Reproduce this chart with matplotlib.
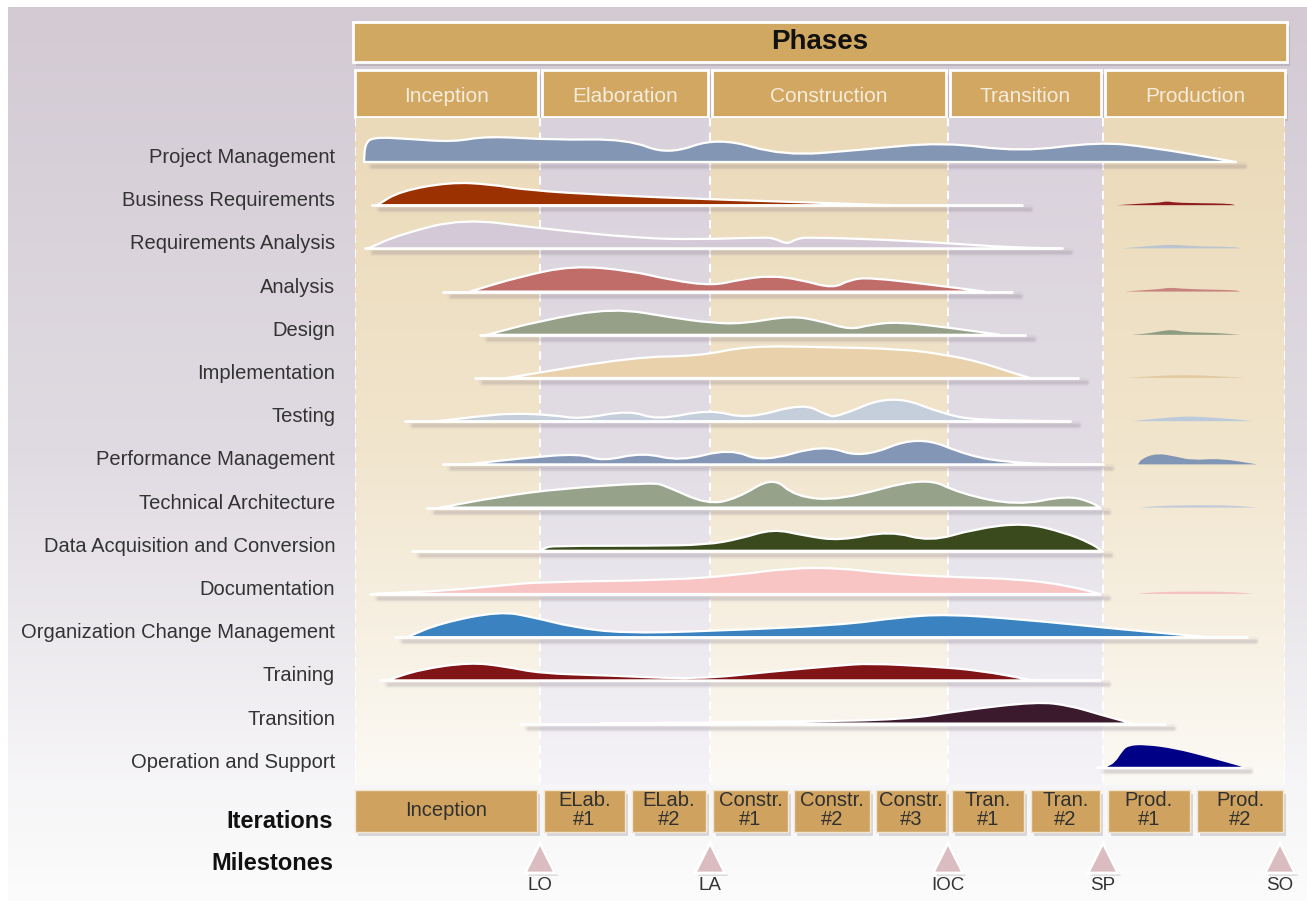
import numpy as np
import matplotlib
matplotlib.use("Agg")
import matplotlib.pyplot as plt
import matplotlib.transforms as mtransforms
from matplotlib.path import Path
from matplotlib.patches import PathPatch, Rectangle, Polygon

plt.rcParams['font.family'] = ['Liberation Sans', 'DejaVu Sans']

# ----- DATA -----
PHASES = ["Inception", "Elaboration", "Construction", "Transition", "Production"]
PHASE_BOUNDS = [0, 185, 355, 593, 748, 930]          # project days

ITERATIONS = ["Inception", "ELab.\n#1", "ELab.\n#2", "Constr.\n#1", "Constr.\n#2",
              "Constr.\n#3", "Tran.\n#1", "Tran.\n#2", "Prod.\n#1", "Prod.\n#2"]
ITER_START = [0, 189, 277, 358, 439, 521, 597, 676, 753, 842]
ITER_END = [182, 270, 351, 433, 515, 591, 669, 745, 835, 928]

MILESTONES = ["LO", "LA", "IOC", "SP", "SO"]
MILESTONE_DAY = [185, 355, 593, 748, 925]

ACTIVITIES = ["Project Management", "Business Requirements", "Requirements Analysis",
              "Analysis", "Design", "Implementation", "Testing", "Performance Management",
              "Technical Architecture", "Data Acquisition and Conversion", "Documentation",
              "Organization Change Management", "Training", "Transition",
              "Operation and Support"]

# effort curves: day -> relative effort
PM_DAY = [9, 10, 18, 55, 98, 132, 198, 272, 313, 363, 428, 505, 588, 665, 743, 795, 881]
PM_EFF = [0, 18, 25, 23, 20, 26, 22, 23, 7, 25, 6, 12, 20, 10, 20, 15, 0]

BR_DAY = [22, 45, 95, 135, 172, 252, 352, 445, 535]
BR_EFF = [0, 14, 23, 21, 15, 10, 6, 3, 0]
BR2_DAY = [762, 785, 805, 812, 820, 845, 875, 880]
BR2_EFF = [0, 1.5, 2.5, 4, 2.5, 2, 1.5, 0]

RA_DAY = [13, 45, 108, 185, 285, 345, 408, 420, 432, 442, 455, 525, 595, 655, 705]
RA_EFF = [0, 14, 30, 20, 10, 9, 11, 10, 4, 10, 11, 9, 5, 1, 0]
RA2_DAY = [767, 790, 810, 822, 840, 880, 885]
RA2_EFF = [0, 2, 3.5, 3.5, 2, 1.5, 0]

AN_DAY = [115, 165, 218, 275, 318, 358, 385, 415, 445, 478, 495, 515, 575, 630]
AN_EFF = [0, 15, 26, 21, 11, 6, 12, 16, 12, 3, 12, 14, 7, 0]
AN2_DAY = [770, 790, 805, 815, 825, 850, 880, 885]
AN2_EFF = [0, 1.5, 2.5, 4, 3, 2, 1.5, 0]

DE_DAY = [132, 185, 258, 318, 355, 388, 435, 465, 495, 515, 543, 595, 645]
DE_EFF = [0, 14, 27, 17, 12, 11, 19, 14, 5, 10, 13, 7, 0]
DE2_DAY = [777, 795, 808, 818, 830, 860, 885]
DE2_EFF = [0, 1.5, 4, 5, 2.5, 2, 0]

IM_DAY = [152, 278, 345, 392, 465, 548, 592, 625, 655, 675]
IM_EFF = [0, 21, 22, 32, 31, 29, 23, 16, 6, 0]
IM2_DAY = [773, 800, 828, 850, 890]
IM2_EFF = [0, 2, 3, 2.5, 0]

TE_DAY = [82, 125, 158, 200, 225, 275, 302, 355, 392, 448, 472, 482, 537, 592, 625, 710]
TE_EFF = [0, 5, 8, 6, 2, 11, 1, 12, 2, 18, 6, 4, 27, 6, 1, 0]
TE2_DAY = [778, 800, 832, 850, 880, 897]
TE2_EFF = [0, 2.5, 5, 4, 2, 0]

PF_DAY = [112, 165, 225, 247, 288, 325, 375, 408, 468, 507, 563, 615, 655, 700]
PF_EFF = [0, 6, 11, 3, 12, 3, 16, 2, 20, 6, 29, 8, 2, 0]
PF2_DAY = [783, 787, 802, 820, 837, 865, 902]
PF2_EFF = [0, 6, 11, 8, 4, 6, 0]

TA_DAY = [85, 145, 205, 298, 310, 352, 382, 418, 440, 485, 570, 605, 662, 712, 735, 745]
TA_EFF = [0, 11, 19, 25, 22, 3, 9, 31, 11, 7, 31, 14, 2, 12, 6, 0]
TA2_DAY = [785, 800, 840, 880, 902]
TA2_EFF = [0, 1.5, 2.5, 2, 0]

DA_DAY = [185, 190, 198, 295, 352, 385, 418, 450, 485, 535, 575, 620, 670, 710, 735, 747]
DA_EFF = [0, 3, 5, 5, 6, 12, 22, 15, 10, 20, 9, 22, 28, 18, 8, 0]

DO_DAY = [18, 45, 85, 152, 185, 318, 382, 435, 485, 525, 592, 665, 715, 745]
DO_EFF = [0, 1.5, 3, 9, 12, 14, 19, 26, 26, 21, 17, 15, 8, 0]
DO2_DAY = [782, 800, 840, 880, 898]
DO2_EFF = [0, 2, 2.5, 2, 0]

OC_DAY = [52, 85, 145, 178, 218, 268, 352, 485, 545, 592, 665, 765, 853]
OC_EFF = [0, 14, 26, 20, 10, 4, 6, 12, 20, 23, 18, 8, 0]

TR_DAY = [32, 65, 115, 150, 185, 252, 342, 418, 485, 515, 575, 625, 678]
TR_EFF = [0, 11, 18, 14, 7, 5, 1, 9, 15, 17, 14, 10, 0]

TN_DAY = [245, 325, 445, 550, 605, 682, 715, 745, 778]
TN_EFF = [0, 1, 2, 4, 13, 22, 18, 9, 0]

OS_DAY = [752, 760, 767, 773, 790, 820, 855, 887]
OS_EFF = [0, 4, 15, 21, 22, 18, 9, 0]

# white lead lines (start day, end day) for each activity, None = none
LEAD_LINES = [None, (17, 667), (10, 707), (88, 657), (125, 670), (120, 723), (50, 715),
              (88, 748), (72, 745), (57, 747), (15, 745), (40, 892), (25, 745),
              (165, 810), (742, 887)]

MAIN_CURVES = [(PM_DAY, PM_EFF), (BR_DAY, BR_EFF), (RA_DAY, RA_EFF), (AN_DAY, AN_EFF),
               (DE_DAY, DE_EFF), (IM_DAY, IM_EFF), (TE_DAY, TE_EFF), (PF_DAY, PF_EFF),
               (TA_DAY, TA_EFF), (DA_DAY, DA_EFF), (DO_DAY, DO_EFF), (OC_DAY, OC_EFF),
               (TR_DAY, TR_EFF), (TN_DAY, TN_EFF), (OS_DAY, OS_EFF)]
MAIN_COLORS = ['#8397b4', '#9c3100', '#d4c9d6', '#c06c68', '#96a088', '#e9d2ab', '#c5cedb',
               '#8396b6', '#97a28a', '#3a4a1c', '#f8c4c4', '#3a83c0', '#801416', '#3b1a2d',
               '#000086']

PROD_CURVES = {1: (BR2_DAY, BR2_EFF), 2: (RA2_DAY, RA2_EFF), 3: (AN2_DAY, AN2_EFF),
               4: (DE2_DAY, DE2_EFF), 5: (IM2_DAY, IM2_EFF), 6: (TE2_DAY, TE2_EFF),
               7: (PF2_DAY, PF2_EFF), 8: (TA2_DAY, TA2_EFF), 10: (DO2_DAY, DO2_EFF)}
PROD_COLORS = {1: '#8f1d1d', 2: '#bcc4d0', 3: '#c8837e', 4: '#8e9c82', 5: '#e2cba3',
               6: '#bccadb', 7: '#8195b5', 8: '#c0cad8', 10: '#f6c2c2'}

# ----- LAYOUT -----
W, H = 1307, 901
ROW_PX = 43.2          # pixels per row
ROW0_PX = 155.5        # y of first row label
AREA_TOP, AREA_BOT = 118, 785
AREA_LEFT, AREA_RIGHT = 355, 1285
BASE_OFF = 0.15

fig = plt.figure(figsize=(W / 100, H / 100), dpi=100)
bg = fig.add_axes([0, 0, 1, 1])
bg.set_xlim(0, W)
bg.set_ylim(H, 0)
bg.axis('off')

ax = fig.add_axes([AREA_LEFT / W, 1 - AREA_BOT / H,
                   (AREA_RIGHT - AREA_LEFT) / W, (AREA_BOT - AREA_TOP) / H])
ax.patch.set_visible(False)
y_bot = (AREA_BOT - ROW0_PX) / ROW_PX
y_top = (AREA_TOP - ROW0_PX) / ROW_PX


def hexrgb(c):
    return np.array([int(c[i:i + 2], 16) for i in (1, 3, 5)]) / 255.0


def gradient(stops, n=256):
    pos = np.linspace(0, 1, n)
    cols = np.array([hexrgb(c) for _, c in stops])
    at = [p for p, _ in stops]
    img = np.stack([np.interp(pos, at, cols[:, k]) for k in range(3)], axis=-1)
    return img[:, None, :]


# outer background
bg.imshow(gradient([(0, '#d3cad4'), (0.5, '#e0dbe2'), (0.87, '#f6f5f7'), (1, '#fcfcfc')]),
          extent=(8, W, H, 7), aspect='auto', zorder=0)
bg.set_xlim(0, W)
bg.set_ylim(H, 0)

# phase bands
tan = gradient([(0, '#ebdab9'), (0.5, '#f1e5cd'), (1, '#fcfaf5')])
lav = gradient([(0, '#d9d1db'), (0.5, '#e2dde5'), (1, '#f5f3f7')])
for i in range(len(PHASES)):
    ax.imshow(tan if i % 2 == 0 else lav,
              extent=(PHASE_BOUNDS[i], PHASE_BOUNDS[i + 1], y_bot, y_top),
              aspect='auto', zorder=0)
ax.vlines(PHASE_BOUNDS, y_top, y_bot, colors='white', linestyles=(0, (4, 3)),
          linewidth=1.5, zorder=1)

ax.set_xlim(0, 930)
ax.set_ylim(y_bot, y_top)
for s in ax.spines.values():
    s.set_visible(False)
ax.set_xticks([])
ax.set_yticks(range(len(ACTIVITIES)))
ax.set_yticklabels(ACTIVITIES, fontsize=14.5, color='#333333')
ax.tick_params(axis='y', length=0, pad=14.4)


def mid(a, b):
    return ((a[0] + b[0]) / 2, (a[1] + b[1]) / 2)


def hump(days, eff, base, color, outline=True, z=3):
    pts = [(d, base - e / ROW_PX) for d, e in zip(days, eff)]
    verts = [pts[0], mid(pts[0], pts[1])]
    codes = [Path.MOVETO, Path.LINETO]
    for i in range(1, len(pts) - 1):
        verts += [pts[i], mid(pts[i], pts[i + 1])]
        codes += [Path.CURVE3, Path.CURVE3]
    verts += [pts[-1], (pts[-1][0], base), (pts[0][0], base), pts[0]]
    codes += [Path.LINETO, Path.LINETO, Path.LINETO, Path.CLOSEPOLY]
    patch = PathPatch(Path(verts, codes), facecolor=color,
                      edgecolor='white' if outline else 'none',
                      linewidth=1.6, joinstyle='round', zorder=z)
    ax.add_patch(patch)


def shadow(x0, x1, base):
    # soft drop shadow under a baseline
    for lw, a in ((6, 0.06), (3.5, 0.10), (1.8, 0.12)):
        ax.plot([x0 + 8, x1 + 8], [base + 4 / ROW_PX] * 2, color='#7d7080',
                alpha=a, linewidth=lw, solid_capstyle='round', zorder=2)


for i, (days, eff) in enumerate(MAIN_CURVES):
    base = i + BASE_OFF
    lead = LEAD_LINES[i]
    if lead is not None:
        shadow(lead[0], lead[1], base)
        ax.plot(lead, [base, base], color='white', linewidth=2,
                solid_capstyle='round', zorder=2.5)
    else:
        shadow(days[0], days[-1], base)
    hump(days, eff, base, MAIN_COLORS[i], outline=(i != 14))
    if i in PROD_CURVES:
        d2, e2 = PROD_CURVES[i]
        hump(d2, e2, base, PROD_COLORS[i], outline=False)

# ----- HEADER / ITERATION BOXES (x in days, y in pixels) -----
tr = mtransforms.blended_transform_factory(ax.transData, bg.transData)


def box(x0, x1, y0, y1, face, edge, lw):
    bg.add_patch(Rectangle((x0 + 3, y0 + 4), x1 - x0, y1 - y0, transform=tr,
                           facecolor='#6e6470', alpha=0.22, edgecolor='none', zorder=3))
    bg.add_patch(Rectangle((x0, y0), x1 - x0, y1 - y0, transform=tr,
                           facecolor=face, edgecolor=edge, linewidth=lw, zorder=4))


box(-2, 932, 22, 62, '#d0a862', 'white', 2)
bg.text(465, 42, "Phases", transform=tr, ha='center', va='center', fontsize=20,
        fontweight='bold', color='#111111', zorder=5)

for i, name in enumerate(PHASES):
    x0 = PHASE_BOUNDS[i] + (0 if i == 0 else 2)
    x1 = PHASE_BOUNDS[i + 1] - (0 if i == len(PHASES) - 1 else 2)
    box(x0, x1, 70, 117, '#d1a762', 'white', 2)
    bg.text((x0 + x1) / 2, 96, name, transform=tr, ha='center', va='center',
            fontsize=15, color='#f5ecdc', zorder=5)

for name, x0, x1 in zip(ITERATIONS, ITER_START, ITER_END):
    box(x0, x1, 790, 832, '#cfa35f', '#f1e6d0', 1)
    bg.text((x0 + x1) / 2, 810, name, transform=tr, ha='center', va='center',
            fontsize=14.5, color='#303030', linespacing=0.95, zorder=5)

bg.text(333, 821, "Iterations", ha='right', va='center', fontsize=17,
        fontweight='bold', color='#111111')
bg.text(333, 863, "Milestones", ha='right', va='center', fontsize=17,
        fontweight='bold', color='#111111')

for name, d in zip(MILESTONES, MILESTONE_DAY):
    tri = [(d - 15, 873), (d + 15, 873), (d, 843)]
    bg.add_patch(Polygon([(x + 3, y + 3) for x, y in tri], transform=tr,
                         facecolor='#6e6470', alpha=0.2, edgecolor='none', zorder=3))
    bg.add_patch(Polygon(tri, transform=tr, facecolor='#dbbcc1', edgecolor='white',
                         linewidth=2, zorder=4))
    bg.text(d, 885, name, transform=tr, ha='center', va='center', fontsize=13.5,
            color='#333333', zorder=5)

fig.savefig('out.png', dpi=100)
